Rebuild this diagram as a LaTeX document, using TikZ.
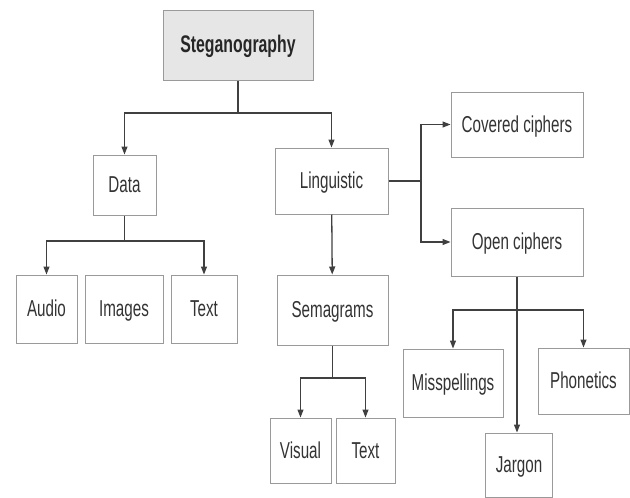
\documentclass[tikz,border=0pt]{standalone}
\usepackage{fontspec}
\setmainfont{Liberation Sans}[FakeStretch=0.66]
\usepackage{tikz}
\usetikzlibrary{arrows.meta, positioning}

\definecolor{boxline}{HTML}{9A9A9A}
\definecolor{linkline}{HTML}{404040}
\definecolor{textgray}{HTML}{333333}
\definecolor{rootfill}{HTML}{E6E6E6}

\tikzset{
  box/.style={draw=boxline, line width=1pt, fill=white, text=textgray,
    font=\fontsize{23}{26}\selectfont, inner sep=0pt, align=center,
    text height=17.5pt, text depth=2pt},
  rootbox/.style={box, fill=rootfill, text=black!85,
    font=\fontsize{24}{28}\selectfont\bfseries},
  link/.style={draw=linkline, line width=1.3pt},
  arr/.style={link, -{Triangle[length=8pt, width=6pt]}}
}

\begin{document}
\begin{tikzpicture}[x=1pt, y=-1pt]
\useasboundingbox (0,0) rectangle (630,498);

% boxes
\node[rootbox, minimum width=150pt, minimum height=70pt] (steg) at (238,45) {Steganography};
\node[box, minimum width=63pt, minimum height=60pt] (data) at (124.5,185) {Data};
\node[box, minimum width=113pt, minimum height=66pt] (ling) at (331.5,181) {Linguistic};
\node[box, minimum width=132pt, minimum height=65pt] (covered) at (517,124.5) {Covered ciphers};
\node[box, minimum width=132pt, minimum height=68pt] (open) at (517,242) {Open ciphers};
\node[box, minimum width=61pt, minimum height=68pt] (audio) at (46.5,309) {Audio};
\node[box, minimum width=78pt, minimum height=68pt] (images) at (124,309) {Images};
\node[box, minimum width=66pt, minimum height=68pt] (textd) at (204,309) {Text};
\node[box, minimum width=111pt, minimum height=70pt] (sema) at (332.5,310) {Semagrams};
\node[box, minimum width=61pt, minimum height=65pt] (visual) at (300.5,450.5) {Visual};
\node[box, minimum width=59pt, minimum height=65pt] (texts) at (365.5,450.5) {Text};
\node[box, minimum width=100pt, minimum height=68pt] (missp) at (453,383) {Misspellings};
\node[box, minimum width=91pt, minimum height=66pt] (phon) at (583.5,381) {Phonetics};
\node[box, minimum width=67pt, minimum height=64pt] (jargon) at (519,465) {Jargon};

% junctions
\coordinate (j1) at (238,113);
\coordinate (j2) at (124.5,241);
\coordinate (j3) at (421,181);
\coordinate (j4) at (332.5,378);
\coordinate (j5) at (517,310);

% connectors
\draw[link] (steg) -- (j1);
\draw[arr] (j1) -| (data);
\draw[arr] (j1) -| (ling);
\draw[link] (data) -- (j2);
\draw[arr] (j2) -| (audio);
\draw[arr] (j2) -| (textd);
\draw[arr] (ling) -- (sema);
\draw[link] (ling.east) -- (j3);
\draw[arr] (j3) |- (covered);
\draw[arr] (j3) |- (open);
\draw[link] (sema) -- (j4);
\draw[arr] (j4) -| (visual);
\draw[arr] (j4) -| (texts);
\draw[link] (open) -- (j5);
\draw[arr] (j5) -| (missp);
\draw[arr] (j5) -| (phon);
\draw[arr] (j5) -- (j5 |- jargon.north);
\end{tikzpicture}
\end{document}
